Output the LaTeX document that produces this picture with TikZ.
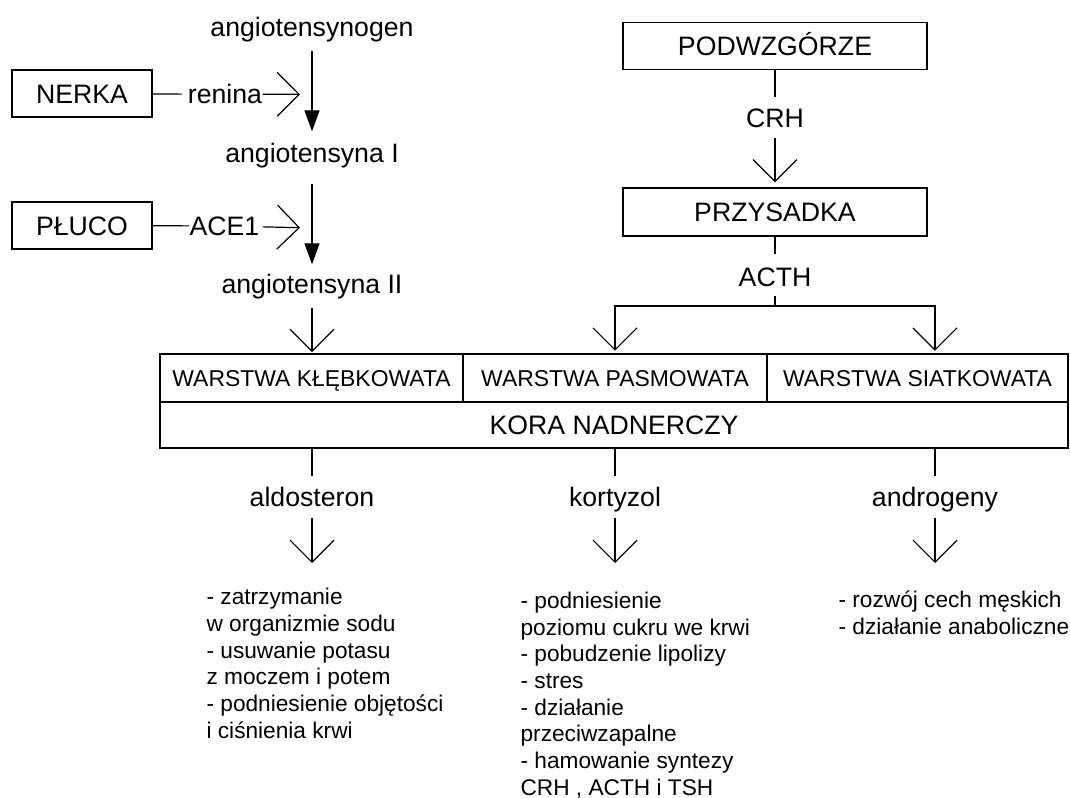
\documentclass[tikz,border=0pt]{standalone}
\usepackage{fontspec}
\setmainfont{Liberation Sans}
\usetikzlibrary{arrows.meta, calc}

\begin{document}
\begin{tikzpicture}[
  x=0.75pt, y=-0.75pt,
  line width=0.9pt,
  box/.style={draw, inner sep=0pt, font=\fontsize{20}{24}\selectfont, text height=14.3pt, text depth=0pt},
  organ/.style={box, minimum width=105pt, minimum height=35.25pt},
  gland/.style={box, minimum width=228pt, minimum height=35.25pt},
  layer/.style={draw, inner sep=0pt, minimum height=36pt, font=\fontsize{17.2}{20}\selectfont, text height=12.3pt, text depth=0pt},
  lbl/.style={inner sep=0pt, font=\fontsize{20}{24}\selectfont, text height=14.3pt, text depth=0pt},
  effects/.style={inner sep=0pt, anchor=base west, align=left, font=\fontsize{17}{20}\selectfont},
  openarr/.style={-{Straight Barb[length=16.5pt, width=33pt, line width=0.9pt]}},
  fillarr/.style={-{Triangle[length=15.75pt, width=11.25pt]}},
]
\useasboundingbox (0,0) rectangle (1070,798);

% Left side: renin - angiotensin
\node[lbl] (agen) at (312,26.5) {angiotensynogen};
\node[lbl] (ang1) at (312,152.5) {angiotensyna I};
\node[lbl] (ang2) at (312,283.5) {angiotensyna II};
\node[organ] (nerka) at (82,93.5) {NERKA};
\node[organ] (pluco) at (82,225.5) {PŁUCO};
\node[lbl] (renina) at (225,94.4) {renina};
\node[lbl] (ace) at (224.5,226) {ACE1};
\coordinate (rtip) at (300,94.3);
\coordinate (atip) at (300,227.7);

\draw[fillarr, shorten <=10.5pt, shorten >=8.25pt] (agen) -- (ang1);
\draw[fillarr, shorten <=15.75pt, shorten >=6.75pt] (ang1) -- (ang2);
\draw[shorten >=4pt] (nerka) -- (renina);
\draw[openarr] (renina) -- (rtip);
\draw (pluco) -- (ace);
\draw[openarr, shorten <=2pt] (ace) -- (atip);

% Right side: hypothalamus - pituitary
\node[gland] (podw) at (775,46) {PODWZGÓRZE};
\node[gland, minimum height=36pt] (przys) at (775,212) {PRZYSADKA};
\node[lbl] (crh) at (775,117.5) {CRH};
\node[lbl] (acth) at (775,276.5) {ACTH};
\coordinate (split) at (775,306);

\draw[shorten >=7.5pt] (podw) -- (crh);
\draw[openarr, shorten <=7.5pt, shorten >=3.75pt] (crh) -- (przys);
\draw[shorten >=9pt] (przys) -- (acth);
\draw[shorten <=6.75pt] (acth) -- (split);

% Adrenal cortex
\node[layer, minimum width=227.25pt] (klb) at (311.5,378) {WARSTWA KŁĘBKOWATA};
\node[layer, minimum width=228pt] (pas) at (615,378) {WARSTWA PASMOWATA};
\node[layer, minimum width=225.75pt] (siat) at (917.5,378) {WARSTWA SIATKOWATA};
\node[box, minimum width=681pt, minimum height=34.5pt] (kora) at (614,425) {KORA NADNERCZY};

\draw[openarr, shorten <=10.5pt, shorten >=1pt] (ang2) -- (ang2 |- klb.north);
\draw[openarr, shorten >=2pt] (split) -| (pas.north);
\draw[openarr, shorten >=2pt] (split) -| ([xshift=13.1pt]siat.north);

% Hormones and effects
\node[lbl] (aldo) at (312,496.5) {aldosteron};
\node[lbl] (kort) at (615,496.5) {kortyzol};
\node[lbl] (andr) at (935,496.5) {androgeny};
\coordinate (tipA) at (312,563);
\coordinate (tipK) at (615,563);
\coordinate (tipN) at (935,563);

\draw[shorten >=7.5pt] (aldo |- kora.south) -- (aldo);
\draw[shorten >=7.5pt] (kort |- kora.south) -- (kort);
\draw[shorten >=7.5pt] (andr |- kora.south) -- (andr);
\draw[openarr, shorten <=8.25pt] (aldo) -- (tipA);
\draw[openarr, shorten <=8.25pt] (kort) -- (tipK);
\draw[openarr, shorten <=8.25pt] (andr) -- (tipN);

% base anchor sits on the last line
\node[effects] (efA) at (206,738) {- zatrzymanie\\w organizmie sodu\\- usuwanie potasu\\z moczem i potem\\- podniesienie objętości\\i ciśnienia krwi};
\node[effects] (efK) at (520,795) {- podniesienie\\poziomu cukru we krwi\\- pobudzenie lipolizy\\- stres\\- działanie\\przeciwzapalne\\- hamowanie syntezy\\CRH , ACTH i TSH};
\node[effects] (efN) at (838,634) {- rozwój cech męskich\\- działanie anaboliczne};

\end{tikzpicture}
\end{document}
